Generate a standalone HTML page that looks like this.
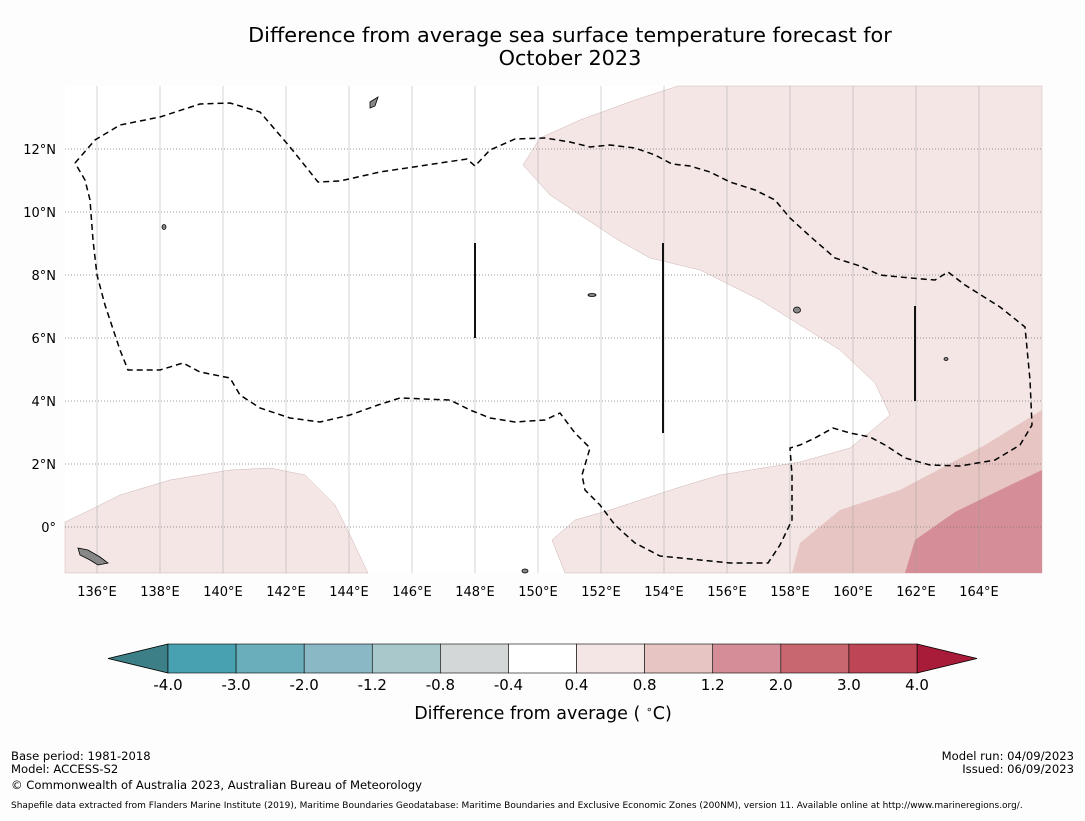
<!DOCTYPE html>
<html><head><meta charset="utf-8"><style>
body{margin:0;background:#fdfdfd;font-family:"Liberation Sans","DejaVu Sans",sans-serif;}
svg text{font-family:"DejaVu Sans","Liberation Sans",sans-serif;}
</style></head><body>
<svg width="1085" height="816" viewBox="0 0 1085 816" xmlns="http://www.w3.org/2000/svg">
<rect width="1085" height="816" fill="#fdfdfd"/>
<text x="570" y="42" font-size="20.8" text-anchor="middle">Difference from average sea surface temperature forecast for</text>
<text x="570" y="65" font-size="20.8" text-anchor="middle">October 2023</text>
<g id="map">
<rect x="65" y="86" width="977" height="487" fill="#ffffff"/>
<polygon fill="#f3e6e5" stroke="#cfb5b5" stroke-width="0.5" points="523,165 540,138 580,120 635,100 678,86 1042,86 1042,573 565,573 552,540 575,520 610,510 680,487 720,475 800,462 850,448 870,432 890,415 875,383 840,350 800,325 760,300 700,270 650,258 618,240 580,215 550,195"/>
<polygon fill="#f3e6e5" stroke="#cfb5b5" stroke-width="0.5" points="65,522 90,510 120,495 170,480 230,470 270,468 305,475 335,505 350,535 368,573 65,573"/>
<polygon fill="#e6c5c2" points="1042,410 985,445 900,490 840,510 800,543 792,573 1042,573"/>
<polygon fill="#d58e97" points="1042,470 1000,490 955,512 915,540 905,573 1042,573"/>
<g id="grid"></g>
<polyline fill="none" stroke="#000" stroke-width="1.5" stroke-dasharray="6,4" points="75,163 95,140 120,125 160,117 200,104 230,103 260,112 290,147 318,182 340,181 380,172 420,166 467,159 475,166 490,150 515,139 545,138 570,142 590,147 610,145 635,148 655,155 672,164 690,166 710,172 730,182 755,190 775,200 790,218 812,238 835,258 860,266 880,275 910,278 935,280 948,272 965,285 1000,307 1025,327 1030,380 1032,425 1020,445 995,460 960,466 930,465 905,458 885,445 870,437 850,433 833,428 815,438 800,445 790,448 792,475 792,520 780,545 768,563 730,563 700,560 660,556 635,543 615,525 600,505 585,490 582,475 590,448 575,433 560,413 545,420 515,422 490,418 470,410 450,400 400,398 378,405 350,415 320,422 290,418 260,408 240,395 230,378 200,372 183,363 160,370 128,370 120,350 105,305 97,275 93,240 90,200 85,180 75,163"/>
<g stroke="#111" stroke-width="2">
<line x1="475" y1="243" x2="475" y2="338"/><line x1="663" y1="243" x2="663" y2="433"/><line x1="915" y1="306" x2="915" y2="401"/>
</g>
<g fill="#888" stroke="#000" stroke-width="0.8">
<polygon points="370,102 378,97 375,106 370,108"/>
<polygon points="78,548 88,550 100,557 108,563 98,565 90,560 80,555"/>
<ellipse cx="797" cy="310" rx="3.5" ry="3"/>
<ellipse cx="164" cy="227" rx="2" ry="2.5"/>
<ellipse cx="592" cy="295" rx="4" ry="1.5"/>
<ellipse cx="946" cy="359" rx="2" ry="1.5"/>
<ellipse cx="525" cy="571" rx="3" ry="2"/>
</g>
</g>
<g id="cbar"></g>
<text x="543" y="719" font-size="17.5" text-anchor="middle">Difference from average ( <tspan font-size="11" dy="-6">∘</tspan><tspan dy="6">C)</tspan></text>
<g font-size="11.6">
<text x="11" y="760">Base period: 1981-2018</text>
<text x="11" y="773">Model: ACCESS-S2</text>
<text x="11" y="789">© Commonwealth of Australia 2023, Australian Bureau of Meteorology</text>
<text x="1074" y="760" text-anchor="end">Model run: 04/09/2023</text>
<text x="1074" y="773" text-anchor="end">Issued: 06/09/2023</text>
<text x="11" y="808" font-size="9">Shapefile data extracted from Flanders Marine Institute (2019), Maritime Boundaries Geodatabase: Maritime Boundaries and Exclusive Economic Zones (200NM), version 11. Available online at http://www.marineregions.org/.</text>
</g>
</svg>
<script>
const lonTicks=[136,138,140,142,144,146,148,150,152,154,156,158,160,162,164];
const latTicks=[0,2,4,6,8,10,12];
const cbLevels=["-4.0","-3.0","-2.0","-1.2","-0.8","-0.4","0.4","0.8","1.2","2.0","3.0","4.0"];
const cbColors=["#48a1b0","#6aaebb","#8ab8c4","#a9c8cc","#d3d7d8","#ffffff","#f4e6e5","#e6c5c2","#d58e97","#c8676f","#bd4555"];
const cbExtLow="#3d7f87", cbExtHigh="#a81c3a";
const NS="http://www.w3.org/2000/svg";
const X=lon=>65.5+(lon-135)*31.5;
const Y=lat=>527-lat*31.5;
const grid=document.getElementById('grid');
function mk(t,a,p){const e=document.createElementNS(NS,t);for(const k in a)e.setAttribute(k,a[k]);p.appendChild(e);return e;}
const svg=document.querySelector('svg');
lonTicks.forEach(l=>{
 const e=mk('line',{x1:X(l),x2:X(l),y1:86,y2:573,stroke:'#999','stroke-width':0.6,'stroke-opacity':0.7},grid);
 
 
 const t=mk('text',{x:X(l),y:596,'font-size':13,'text-anchor':'middle'},svg);
 t.textContent=l+'°E';
 
 
});
latTicks.forEach(l=>{
 const e=mk('line',{x1:65,x2:1042,y1:Y(l),y2:Y(l),stroke:'#777','stroke-width':0.7,'stroke-dasharray':'1,2'},grid);
 
 
 const t=mk('text',{x:56,y:Y(l)+5,'font-size':13,'text-anchor':'end'},svg);
 t.textContent=l===0?'0°':l+'°N';
 
 
});
const cb=document.getElementById('cbar');
const cx0=168,cx1=917,cy=644,ch=29,w=(cx1-cx0)/cbColors.length;
const lo=mk('polygon',{points:`${cx0},${cy} 108,${cy+ch/2} ${cx0},${cy+ch}`,fill:cbExtLow,stroke:'#000','stroke-width':0.8},cb);


const hi=mk('polygon',{points:`${cx1},${cy} 977,${cy+ch/2} ${cx1},${cy+ch}`,fill:cbExtHigh,stroke:'#000','stroke-width':0.8},cb);


cbColors.forEach((c,i)=>{
 const r=mk('rect',{x:cx0+i*w,y:cy,width:w,height:ch,fill:c,stroke:'#000','stroke-width':0.6},cb);
 
 
});
cbLevels.forEach((s,i)=>{
 const t=mk('text',{x:cx0+i*w,y:690,'font-size':15,'text-anchor':'middle'},cb);
 t.textContent=s;
 
 
});
</script>
</body></html>
